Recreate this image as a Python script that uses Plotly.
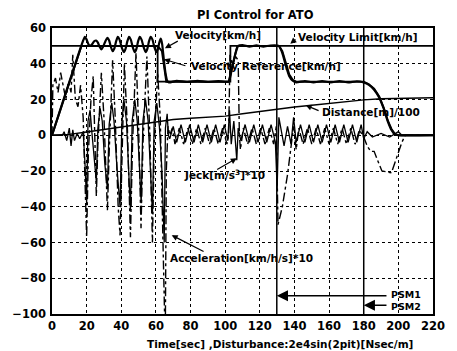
import plotly.graph_objects as go

# ---------------- data ----------------
limit_t = [0, 61, 61, 103, 103, 220]
limit_v = [50, 50, 30, 30, 50, 50]

ref_pts = [(0, 0), (17, 50), (61, 50), (63.5, 47), (66, 30), (102, 30), (107, 50), (131, 50),
           (133, 47), (135, 40), (137, 34), (139, 31), (141, 30), (180, 30), (183, 28.5),
           (186, 26), (189, 21.5), (191.5, 15.5), (194, 8), (196, 3.5), (198, 0.8), (200, 0), (220, 0)]

vel_pts = [(0, 0), (18, 53), (19, 55), (20, 53.5), (21, 51), (22, 50), (23, 50.8), (24.3, 52.5),
           (25.5, 53), (26.5, 51.8), (27.5, 49.5), (28.5, 48), (29.5, 49.5), (30.8, 52.5),
           (32, 54.5), (33, 53), (34, 49.5), (35, 47), (36, 48.5), (37, 52.5), (38, 55),
           (39, 53.5), (40.3, 49), (41.5, 46.5), (42.5, 48.5), (43.5, 52.5), (44.5, 55),
           (45.5, 53.5), (46.7, 49), (47.8, 46.5), (48.8, 48.5), (49.7, 52.5), (50.7, 55),
           (51.7, 53.5), (53, 49), (54.1, 46.5), (55.1, 48.5), (56, 52.5), (57, 55), (58, 53.5),
           (59.2, 49), (60.3, 46.5), (61.2, 48.5), (62, 52), (62.8, 54), (63.6, 51), (64.5, 43),
           (65.5, 35), (66.5, 30.5), (67.5, 29.5),
           (72, 30.5), (78, 29.8), (84, 30.4), (90, 29.8), (96, 30.3), (102, 30), (104, 38),
           (106, 46), (107.5, 50), (110, 50.5), (114, 49.6), (118, 50.3), (122, 49.6), (126, 50.2),
           (131, 50), (133, 46), (135, 39), (137, 33), (139, 30.5), (141, 29.6), (146, 30.3),
           (151, 29.6), (156, 30.3), (161, 29.6), (166, 30.3), (171, 29.6), (176, 30.2), (180, 29.5),
           (183, 28.2), (186, 25.5), (189, 21), (191.5, 15), (194, 7.5), (196, 3), (198, 0.5),
           (200, 0), (220, 0)]

dist_pts = [(0, 0), (10, 0.5), (20, 1.8), (30, 3.2), (40, 4.6), (50, 6), (62, 7.8), (70, 8.8),
            (80, 9.5), (90, 10.1), (100, 10.7), (110, 12), (120, 13.3), (130, 14.7), (140, 15.8),
            (150, 16.8), (160, 17.9), (170, 18.9), (180, 19.8), (190, 20.4), (200, 20.7), (220, 21)]

acc_pts = [(0, 0), (0.5, 28), (2, 32), (3.5, 24), (5, 35), (6.5, 28), (8, 20), (9.5, 30), (11, 24),
           (12, 45), (13.5, 20), (15, 16), (16.5, 28), (18, 10), (19, -20), (20, -57), (21, -10),
           (22.5, 20), (23.8, 33), (25, -5), (25.6, -34), (26.5, -5), (28.5, 35), (30, 10),
           (32, -42), (33, -10), (35, 42), (36.5, 10), (38.2, -40), (39.3, -56), (40.5, -10),
           (41.8, 40), (43.5, 5), (45.3, -57), (46.5, -5), (48.5, 46), (50, 5), (51.4, -52),
           (52.5, -5), (54.8, 44), (56.5, 0), (58, -60), (59, -5), (61, 35), (62.5, 10), (64, -60),
           (65, -100), (65.5, -100), (66, -20), (67, 5), (68, 0), (69.5, 4), (71, -5), (73.5, 4),
           (76, -5), (78.5, 4), (81, -5), (83.5, 4), (86, -5), (88.5, 4), (91, -5), (93.5, 4),
           (96, -5), (98.5, 4), (101, -5), (102, 0), (102.8, 45), (104, 40), (106, 44), (107.5, 42),
           (108.2, 0), (108.8, -8), (110.5, 4), (113, -5), (115.5, 4), (118, -5), (120.5, 4),
           (123, -5), (125.5, 4), (128, -5), (129.5, 5), (130.5, -50), (133, -40), (136, -22),
           (138.5, -2), (139.5, 5), (141, -8), (142.5, 4), (145, -5), (147.5, 4), (150, -5),
           (152.5, 4), (155, -5), (157.5, 4), (160, -5), (162.5, 4), (165, -5), (167.5, 4),
           (170, -5), (172.5, 4), (175, -5), (177.5, 3), (180, -1), (182, -6), (184, -9), (186, -9),
           (188, -14), (190.5, -20), (196, -21), (199, -12), (202, -4), (204, 0), (220, 0)]

jerk_pts = [(0, 0), (6, 0), (7, 2), (8.5, -3), (10, 4), (11, -6), (12, 3), (13, -3), (14.5, 1),
            (16, -2), (17.5, 1), (18, 2), (19, -15), (20, -38), (20.8, 8), (22, 14), (23, 2),
            (24.5, -14), (25.6, -26), (26.5, 4), (27.8, 15), (29, 8), (30.5, -16), (32, -30),
            (33, 6), (34.5, 18), (35.8, 8), (37.5, -18), (39.3, -40), (40.3, 6), (41.5, 20),
            (43, 8), (44.2, -20), (45.3, -42), (46.3, 8), (47.8, 20), (49.2, 8), (50.5, -18),
            (51.5, -38), (52.5, 8), (54, 20), (55.5, 8), (57, -20), (58, -44), (59, 8), (60.5, 18),
            (62, 5), (63.5, -20), (64.8, -60), (65.5, 4), (66.5, 12), (67.2, 0), (68, -2), (70, 5),
            (72, -4), (74.5, 6), (77, -4), (79.5, 6), (82, -4), (84.5, 6), (87, -4), (89.5, 6),
            (92, -4), (94.5, 6), (97, -4), (99.5, 6), (101.5, -3), (102.5, 14), (103.5, -5),
            (105, 8), (106.7, -14), (107.5, 4), (109, -3), (111.5, 6), (114, -4), (116.5, 6),
            (119, -4), (121.5, 6), (124, -4), (126.5, 6), (129, -4), (130, -30), (131, 10),
            (132, 4), (134, -6), (136, 5), (138, -5), (139.5, 10), (141, -4), (143.5, 6), (146, -4),
            (148.5, 6), (151, -4), (153.5, 6), (156, -4), (158.5, 6), (161, -4), (163.5, 6),
            (166, -4), (168.5, 6), (171, -4), (173.5, 6), (176, -4), (178.5, 6), (180, -2),
            (182, 2), (185, -1), (190, 1), (195, -1), (200, 2), (202, 0), (220, 0)]

psm_t = [129.8, 180]
psm_names = ["PSM1", "PSM2"]
psm_arrow_v = [-89.8, -95.1]

x_ticks = [0, 20, 40, 60, 80, 100, 120, 140, 160, 180, 200, 220]
y_ticks = [-100, -80, -60, -40, -20, 0, 20, 40, 60]

title_text = "PI Control for ATO"
xlabel_text = "Time[sec] ,Disturbance:2e4sin(2pit)[Nsec/m]"

# ---------------- figure ----------------
FONT = "DejaVu Sans"
K = "black"


def unzip(pts):
    return [p[0] for p in pts], [p[1] for p in pts]


fig = go.Figure()
fig.add_trace(go.Scatter(x=limit_t, y=limit_v, mode="lines", line=dict(color=K, width=1.8)))
rt, rv = unzip(ref_pts)
fig.add_trace(go.Scatter(x=rt, y=rv, mode="lines", line=dict(color=K, width=2)))
vt, vv = unzip(vel_pts)
fig.add_trace(go.Scatter(x=vt, y=vv, mode="lines",
                         line=dict(color=K, width=2.2, shape="spline", smoothing=0.5)))
dt, dv = unzip(dist_pts)
fig.add_trace(go.Scatter(x=dt, y=dv, mode="lines", line=dict(color=K, width=1.4)))
at, av = unzip(acc_pts)
fig.add_trace(go.Scatter(x=at, y=av, mode="lines", line=dict(color=K, width=1.4, dash="dashdot")))
jt, jv = unzip(jerk_pts)
fig.add_trace(go.Scatter(x=jt, y=jv, mode="lines", line=dict(color=K, width=1.3)))
for t in psm_t:
    fig.add_trace(go.Scatter(x=[t, t], y=[y_ticks[0], y_ticks[-1]], mode="lines",
                             line=dict(color=K, width=1.5)))

lab_font = dict(family=FONT, size=10.5, color=K, weight="bold")
ann = []


def label(text, x, y, xanchor="left", size=10.5):
    f = dict(lab_font)
    f["size"] = size
    ann.append(dict(x=x, y=y, xref="x", yref="y", text=text, showarrow=False,
                    xanchor=xanchor, yanchor="middle", font=f))


def arrow(x0, y0, x1, y1, size=1.0, width=1.2):
    ann.append(dict(x=x1, y=y1, ax=x0, ay=y0, xref="x", yref="y", axref="x", ayref="y",
                    text="", showarrow=True, arrowhead=2, arrowsize=size, arrowwidth=width,
                    arrowcolor=K, standoff=0, startstandoff=0))


label("Velocity[km/h]", 69.7, 56)
arrow(73.5, 53.1, 65.2, 48.7)
label("Velocity Reference[km/h]", 79, 38.6)
arrow(77.9, 38.6, 64.7, 42.5)
label("Velocity Limit[km/h]", 141, 54.8)
arrow(141.5, 54.3, 137.6, 51.2)
label("Distance[m]/100", 154.8, 12.9)
arrow(154.8, 13.4, 146.5, 16.8)
label("Jeck[m/s<sup>3</sup>]*10", 75.2, -21.8)
arrow(94.5, -19.6, 106.7, -12.9)
label("Acceleration[km/h/s]*10", 66.9, -68.8)
arrow(88.4, -65.5, 69.1, -55.9)
psm_label_v = [-89.2, -95.8]
for name, t, v, lv in zip(psm_names, psm_t, psm_arrow_v, psm_label_v):
    label(name, 194.5, lv, size=9.5)
    arrow(194, v, t, v, size=1.6, width=1.4)

ann.append(dict(x=0.535, y=1.045, xref="paper", yref="paper", text=title_text, showarrow=False,
                xanchor="center", yanchor="middle",
                font=dict(family=FONT, size=11.5, color=K, weight="bold")))
ann.append(dict(x=0.598, y=-0.105, xref="paper", yref="paper", text=xlabel_text, showarrow=False,
                xanchor="center", yanchor="middle", font=lab_font))

axis_common = dict(showline=True, linecolor=K, linewidth=1.5, mirror=True,
                   showgrid=True, gridcolor=K, gridwidth=1, griddash="dot",
                   zeroline=False, ticks="",
                   tickfont=dict(family=FONT, size=11.5, color=K, weight="bold"))

fig.update_layout(
    width=457, height=351,
    margin=dict(l=42, r=17, t=28, b=37),
    paper_bgcolor="white", plot_bgcolor="white",
    showlegend=False,
    annotations=ann,
    xaxis=dict(range=[0, 220], tickvals=x_ticks, **axis_common),
    yaxis=dict(range=[-100, 60], tickvals=y_ticks, ticklabelstandoff=2, **axis_common),
)

fig.write_html("out.html")
